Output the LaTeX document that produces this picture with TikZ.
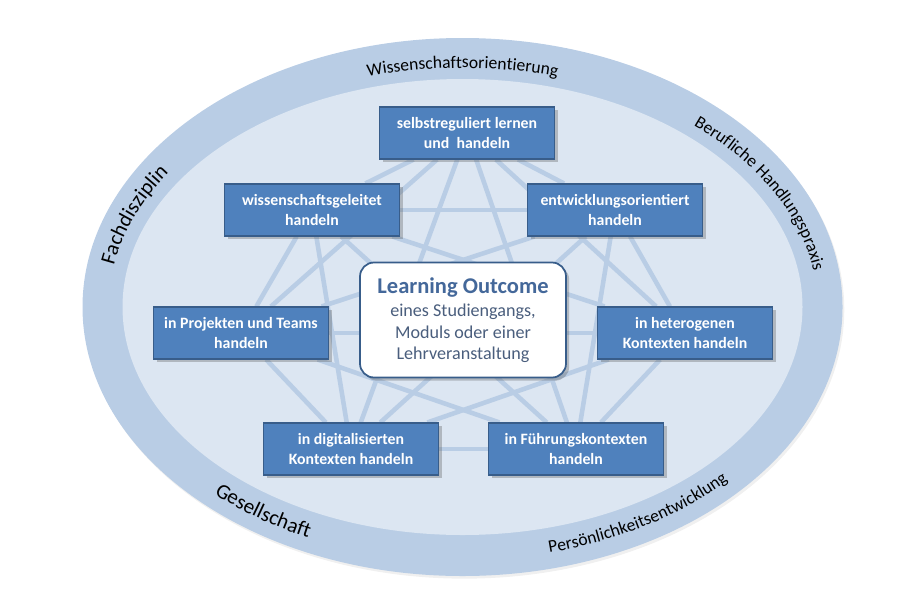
\documentclass[tikz,border=0pt]{standalone}
\usepackage{fontspec}
\setmainfont{Carlito}
\usetikzlibrary{calc,shadows,backgrounds,decorations.text}
\definecolor{ringblue}{rgb}{0.725,0.804,0.898}
\definecolor{innerblue}{rgb}{0.863,0.902,0.949}
\definecolor{boxblue}{rgb}{0.310,0.506,0.741}
\definecolor{boxedge}{rgb}{0.220,0.365,0.541}
\definecolor{linkblue}{rgb}{0.725,0.804,0.898}
\definecolor{titleblue}{rgb}{0.267,0.408,0.604}
\definecolor{subgray}{rgb}{0.290,0.370,0.490}

\begin{document}
\begin{tikzpicture}[
  competence/.style={draw=boxedge, line width=0.6pt, fill=boxblue, text=white, align=center,
    minimum width=3.5cm, minimum height=1.04cm, inner sep=1pt,
    font=\fontsize{9}{11}\selectfont\bfseries,
    drop shadow={shadow xshift=1.8pt, shadow yshift=-1.8pt, opacity=.3, fill=black!70}},
  outcome/.style={draw=boxedge, line width=1pt, fill=white, rounded corners=0.28cm, align=center,
    minimum width=4.12cm, minimum height=2.3cm, text=subgray,
    font=\fontsize{10.3}{12.3}\selectfont,
    drop shadow={shadow xshift=1.8pt, shadow yshift=-1.8pt, opacity=.3, fill=black!70}},
  link/.style={linkblue, line width=2.6pt},
  ringlabel/.style 2 args={decorate, decoration={text along path, text align=center,
    text={|\fontsize{#1}{14}\selectfont|#2}}}
]
\useasboundingbox (0,0) rectangle (18.14,12.08);
\coordinate (c) at (9.25,5.94);

% the seven ways of acting
\node[competence] (selbst) at (9.34,9.42) {selbstreguliert lernen\\und\ \ handeln};
\node[competence] (wiss) at (6.24,7.88) {wissenschaftsgeleitet\\handeln};
\node[competence] (entw) at (12.30,7.88) {entwicklungsorientiert\\handeln};
\node[competence] (proj) at (4.82,5.42) {in Projekten und Teams\\handeln};
\node[competence] (hetero) at (13.70,5.42) {in heterogenen\\Kontexten handeln};
\node[competence] (digit) at (7.02,3.10) {in digitalisierten\\Kontexten handeln};
\node[competence] (fuehr) at (11.52,3.10) {in Führungskontexten\\handeln};

% centre
\node[outcome] (lo) at (9.26,5.68) {\textcolor{titleblue}{\fontsize{12.8}{14}\selectfont\bfseries Learning Outcome}\\[1pt]
  eines Studiengangs,\\Moduls oder einer\\Lehrveranstaltung};

\begin{scope}[on background layer]
\fill[ringblue, drop shadow={shadow xshift=1pt, shadow yshift=-1.5pt, opacity=.12}] (c) ellipse [x radius=7.6cm, y radius=5.38cm];
\fill[innerblue] (c) ellipse [x radius=6.8cm, y radius=4.56cm];
\foreach \a [count=\i] in {selbst,wiss,proj,digit,fuehr,hetero,entw}
  \foreach \b [count=\j] in {selbst,wiss,proj,digit,fuehr,hetero,entw}
    {\ifnum\j>\i \draw[link] (\a) -- (\b); \fi}
\end{scope}

% labels on the ring
\path[ringlabel={10}{Wissenschaftsorientierung}] ($(c)+(130:7.15 and 4.78)$) arc[start angle=130, end angle=50, x radius=7.15cm, y radius=4.78cm];
\path[ringlabel={12}{Fachdisziplin}] ($(c)+(200:7.08 and 4.8)$) arc[start angle=200, end angle=122, x radius=7.08cm, y radius=4.8cm];
\path[ringlabel={10}{Berufliche Handlungspraxis}] ($(c)+(61:7.1 and 4.78)$) arc[start angle=61, end angle=-7, x radius=7.1cm, y radius=4.78cm];
\path[ringlabel={12}{Gesellschaft}] ($(c)+(195:7.32 and 5.09)$) arc[start angle=195, end angle=271, x radius=7.32cm, y radius=5.09cm];
\path[ringlabel={10}{Persönlichkeitsentwicklung}] ($(c)+(263:7.3 and 5.06)$) arc[start angle=263, end angle=343, x radius=7.3cm, y radius=5.06cm];
\end{tikzpicture}
\end{document}
